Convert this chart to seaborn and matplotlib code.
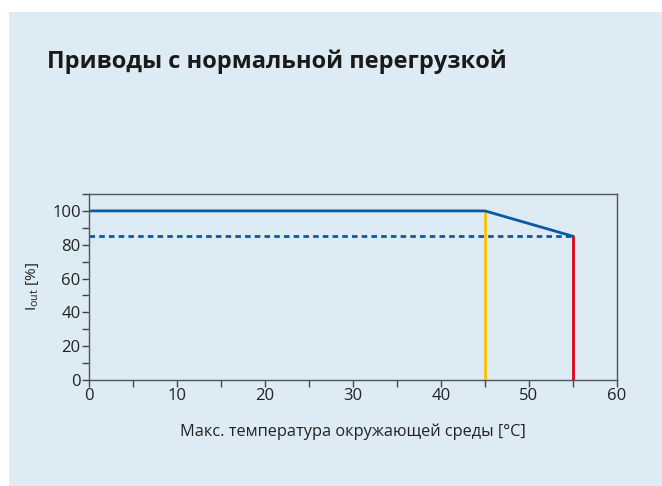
import pandas as pd
import seaborn as sns
import matplotlib.pyplot as plt
from matplotlib.patches import Rectangle
from matplotlib.ticker import MultipleLocator

# derating curve data
temp = [0, 45, 55]
current = [100, 100, 85]
dash_temp = [0, 55]
dash_current = [85, 85]
yellow_temp = [45, 45]
yellow_current = [0, 100]
red_temp = [55, 55]
red_current = [0, 85]

title = 'Приводы с нормальной перегрузкой'
xlabel = 'Макс. температура окружающей среды [°C]'
ylabel = r'I$_{\mathrm{out}}$ [%]'

bg = '#dcebf4'
blue = '#0b59a3'

sns.set_style('ticks')
plt.rcParams['font.family'] = ['Open Sans', 'DejaVu Sans']
plt.rcParams['mathtext.fontset'] = 'custom'
plt.rcParams['mathtext.rm'] = 'Open Sans'

fig = plt.figure(figsize=(6.62, 4.86), dpi=100)
fig.patch.set_facecolor('white')
fig.patches.append(Rectangle((9 / 662, 0), 1, 1 - 12 / 486, transform=fig.transFigure,
                             facecolor=bg, edgecolor='none', zorder=-10))
ax = fig.add_axes([89 / 662, 106 / 486, 528 / 662, 186 / 486])
ax.set_facecolor(bg)

df = pd.DataFrame({'temp': temp, 'current': current})
kw = dict(ax=ax, lw=2, estimator=None, sort=False)
sns.lineplot(x=yellow_temp, y=yellow_current, color='#f8c300', **kw)
sns.lineplot(x=red_temp, y=red_current, color='#e2001a', **kw)
sns.lineplot(x=dash_temp, y=dash_current, color=blue, linestyle=(0, (2, 1.5)), **kw)
sns.lineplot(data=df, x='temp', y='current', color=blue, **kw)

ax.set_xlim(0, 60)
ax.set_ylim(0, 110)
ax.xaxis.set_major_locator(MultipleLocator(10))
ax.xaxis.set_minor_locator(MultipleLocator(5))
ax.set_yticks([0, 20, 40, 60, 80, 100])
ax.yaxis.set_minor_locator(MultipleLocator(10))
ax.tick_params(which='both', direction='out', length=5, width=1, color='#444444',
               labelsize=12, labelcolor='#222222', pad=1)
for s in ax.spines.values():
    s.set_color('#555555')
    s.set_linewidth(1)

ax.set_xlabel(xlabel, fontsize=11.8, color='#222222', labelpad=14)
ax.set_ylabel(ylabel, fontsize=11, color='#222222', labelpad=8)

fig.text(47 / 662, 1 - 62 / 486, title, fontsize=17, fontweight='bold',
         color='#1a1a1a', va='center', ha='left')

fig.savefig('out.png', dpi=100, facecolor=fig.get_facecolor())
